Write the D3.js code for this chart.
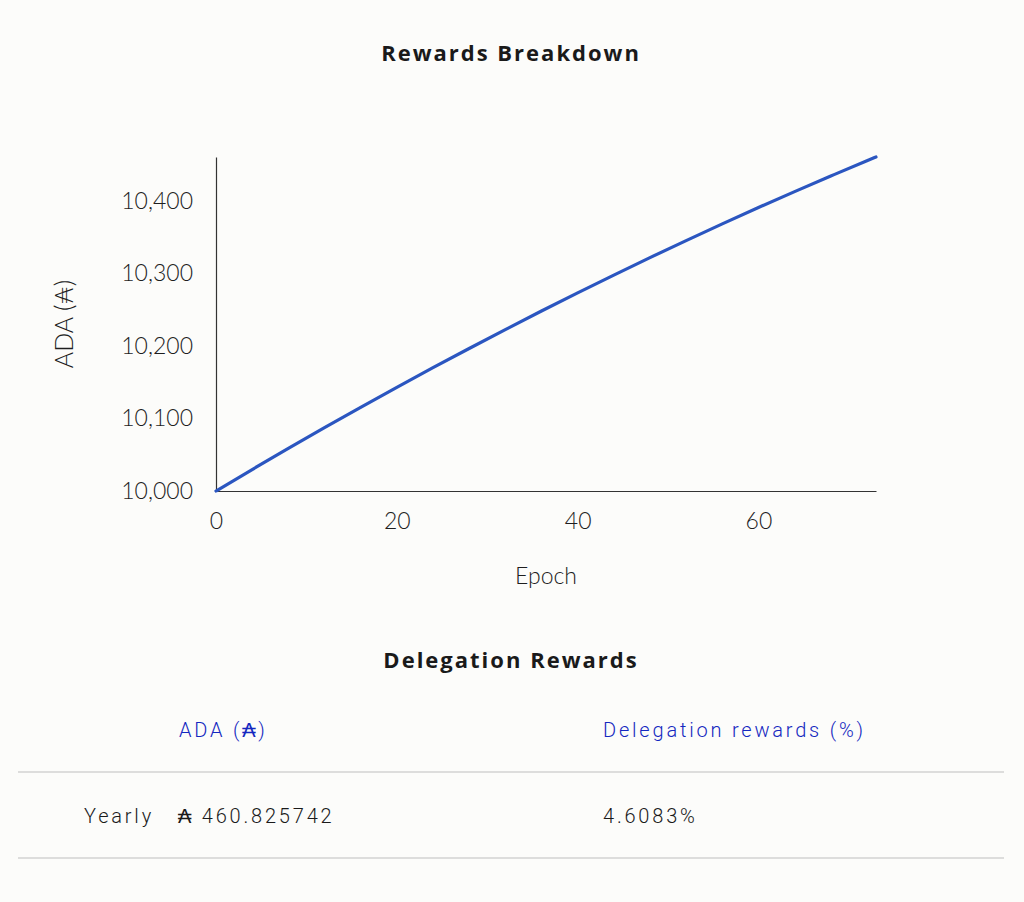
<!DOCTYPE html>
<html>
<head>
<meta charset="utf-8">
<script src="https://cdn.jsdelivr.net/npm/d3@7"></script>
<style>
  html, body { margin: 0; padding: 0; background: #fcfcfa; }
  svg { display: block; }
  .tick text { font-family: "Lato", "DejaVu Sans", sans-serif; font-weight: 300; }
</style>
</head>
<body>
<svg id="chart" width="1024" height="902"></svg>
<script>
// Data
const epochs = [0, 4, 8, 12, 16, 20, 24, 28, 32, 36, 40, 44, 48, 52, 56, 60, 64, 68, 72, 73];
const adaValues = [10000, 10029.6, 10058.7, 10087.3, 10115.4, 10143.0, 10170.1, 10196.6, 10222.7, 10248.3,
                   10273.3, 10297.9, 10322.0, 10345.5, 10368.6, 10391.1, 10413.1, 10434.6, 10455.7, 10460.83];
const xTicks = [0, 20, 40, 60];
const yTicks = [10000, 10100, 10200, 10300, 10400];
const tableHeaders = ["ADA (₳)", "Delegation rewards (%)"];
const tableRowLabel = ["Yearly"];
const tableAda = ["₳ 460.825742"];
const tablePct = ["4.6083%"];

const svg = d3.select("#chart");
const plotLeft = 216, plotRight = 876, plotTop = 157, plotBottom = 491;

const x = d3.scaleLinear().domain([0, 73]).range([plotLeft, plotRight]);
const y = d3.scaleLinear().domain([10000, 10460.83]).range([plotBottom, plotTop]);

const titleFont = "'Open Sans', Roboto, sans-serif";

// Title
svg.append("text").attr("x", 511).attr("y", 61).attr("text-anchor", "middle")
  .attr("font-family", titleFont).attr("font-weight", 700)
  .attr("font-size", 22).attr("letter-spacing", 2.0).attr("fill", "#1a1a1a").text("Rewards Breakdown");

// Axes
const xAxis = d3.axisBottom(x).tickValues(xTicks).tickSize(0).tickPadding(22).tickFormat(d3.format("d"));
const yAxis = d3.axisLeft(y).tickValues(yTicks).tickSize(0).tickPadding(23).tickFormat(d3.format(",d"));

const gx = svg.append("g").attr("transform", `translate(0,${plotBottom})`).call(xAxis);
const gy = svg.append("g").attr("transform", `translate(${plotLeft},0)`).call(yAxis);
[gx, gy].forEach(g => {
  g.select(".domain").attr("stroke", "#333").attr("stroke-width", 1.2);
  g.selectAll(".tick text").attr("font-size", 23).attr("fill", "#1e1e1e");
});

// Axis labels
svg.append("text").attr("x", 546).attr("y", 584).attr("text-anchor", "middle")
  .attr("font-family", "Lato, 'DejaVu Sans', sans-serif").attr("font-weight", 300)
  .attr("font-size", 23).attr("fill", "#1e1e1e").text("Epoch");
svg.append("text").attr("transform", "translate(73,324) rotate(-90)").attr("text-anchor", "middle")
  .attr("font-family", "Lato, 'DejaVu Sans', sans-serif").attr("font-weight", 300)
  .attr("font-size", 25).attr("fill", "#1e1e1e").text("ADA (₳)");

// Line
const line = d3.line().x((d, i) => x(epochs[i])).y(d => y(d)).curve(d3.curveMonotoneX);
svg.append("path").datum(adaValues).attr("d", line)
  .attr("fill", "none").attr("stroke", "#2b56c0").attr("stroke-width", 3.2).attr("stroke-linecap", "round");

// Table title
svg.append("text").attr("x", 511).attr("y", 668).attr("text-anchor", "middle")
  .attr("font-family", titleFont).attr("font-weight", 700)
  .attr("font-size", 22).attr("letter-spacing", 2.0).attr("fill", "#1a1a1a").text("Delegation Rewards");

const tfont = "Roboto, 'DejaVu Sans', sans-serif";
const ls = 2.8;
const headX = [179, 603];
svg.selectAll(".thead").data(tableHeaders).enter().append("text")
  .attr("x", (d, i) => headX[i]).attr("y", 737)
  .attr("font-family", tfont).attr("font-weight", 300).attr("font-size", 20)
  .attr("letter-spacing", ls).attr("fill", "#1428c0").text(d => d);

svg.selectAll(".hline").data([772, 858]).enter().append("line")
  .attr("x1", 18).attr("x2", 1004).attr("y1", d => d).attr("y2", d => d)
  .attr("stroke", "#bdbdbd").attr("stroke-width", 1.2);

const rowY = 823;
svg.append("text").attr("x", 84).attr("y", rowY).attr("font-family", tfont).attr("font-weight", 300)
  .attr("font-size", 20).attr("letter-spacing", ls).attr("fill", "#1a1a1a").text(tableRowLabel[0]);
svg.append("text").attr("x", 178).attr("y", rowY).attr("font-family", tfont).attr("font-weight", 300)
  .attr("font-size", 20).attr("letter-spacing", ls).attr("fill", "#1a1a1a").text(tableAda[0]);
svg.append("text").attr("x", 603).attr("y", rowY).attr("font-family", tfont).attr("font-weight", 300)
  .attr("font-size", 20).attr("letter-spacing", ls).attr("fill", "#1a1a1a").text(tablePct[0]);
</script>
</body>
</html>
